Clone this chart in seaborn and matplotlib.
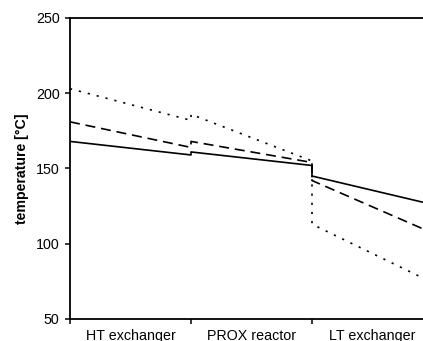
import matplotlib
matplotlib.use("Agg")
import matplotlib.pyplot as plt
import seaborn as sns
import pandas as pd
from matplotlib.ticker import FixedLocator, NullFormatter, FixedFormatter

# Process stages along the gas path
stages = ["HT exchanger", "PROX reactor", "LT exchanger"]

# Inlet / outlet temperatures [°C] of each stage for three operating cases
case1_in = [168, 161, 145]
case1_out = [159, 152, 126]
case2_in = [181, 168, 142]
case2_out = [164, 154, 107]
case3_in = [203, 186, 113]
case3_out = [182, 155, 74]

case_names = ["case 1", "case 2", "case 3"]
y_ticks = [50, 100, 150, 200, 250]

# Build a long table: each stage spans [i, i+1] on the x axis
rows = []
for name, tin, tout in zip(case_names, [case1_in, case2_in, case3_in],
                           [case1_out, case2_out, case3_out]):
    order = 0
    for i in range(len(stages)):
        rows.append({"case": name, "pos": i, "T": tin[i], "order": order})
        order += 1
        rows.append({"case": name, "pos": i + 1, "T": tout[i], "order": order})
        order += 1
df = pd.DataFrame(rows).sort_values(["case", "order"])

sns.set_style("white")
plt.rcParams["font.family"] = ["Liberation Sans", "DejaVu Sans"]
plt.rcParams["text.color"] = "black"
plt.rcParams["axes.labelcolor"] = "black"
plt.rcParams["xtick.color"] = "black"
plt.rcParams["ytick.color"] = "black"

fig = plt.figure(figsize=(4.23, 3.41), dpi=100)
ax = fig.add_axes([70 / 423, 22 / 341, 363 / 423, 301 / 341])

sns.lineplot(
    data=df, x="pos", y="T", style="case", units="case", estimator=None,
    sort=False, color="black", linewidth=1.2,
    dashes=[(1, 0), (6, 3.5), (1.3, 4.2)], legend=False, ax=ax,
)

ax.set_xlim(0, 3)
ax.set_ylim(50, 250)
ax.set_yticks(y_ticks)
ax.set_yticklabels([str(v) for v in y_ticks])

# Stage boundaries carry tick marks, stage names sit between them
ax.xaxis.set_major_locator(FixedLocator([0, 1, 2, 3]))
ax.xaxis.set_major_formatter(NullFormatter())
ax.xaxis.set_minor_locator(FixedLocator([0.5, 1.5, 2.5]))
ax.xaxis.set_minor_formatter(FixedFormatter(stages))
ax.tick_params(axis="x", which="minor", length=0, pad=7, labelsize=10.3,
               labelcolor="black")
ax.tick_params(axis="x", which="major", direction="out", length=3.5,
               width=1.1, color="black", bottom=True)
ax.tick_params(axis="y", direction="out", length=3.5, width=1.1,
               color="black", labelsize=10.3, pad=4, left=True,
               labelcolor="black")

ax.set_xlabel("")
ax.set_ylabel("temperature [°C]", fontsize=10.2, fontweight="bold",
              labelpad=5, color="black")

for side in ["left", "bottom", "top", "right"]:
    ax.spines[side].set_visible(True)
    ax.spines[side].set_color("black")
    ax.spines[side].set_linewidth(1.3)

fig.savefig("out.png", dpi=100)
